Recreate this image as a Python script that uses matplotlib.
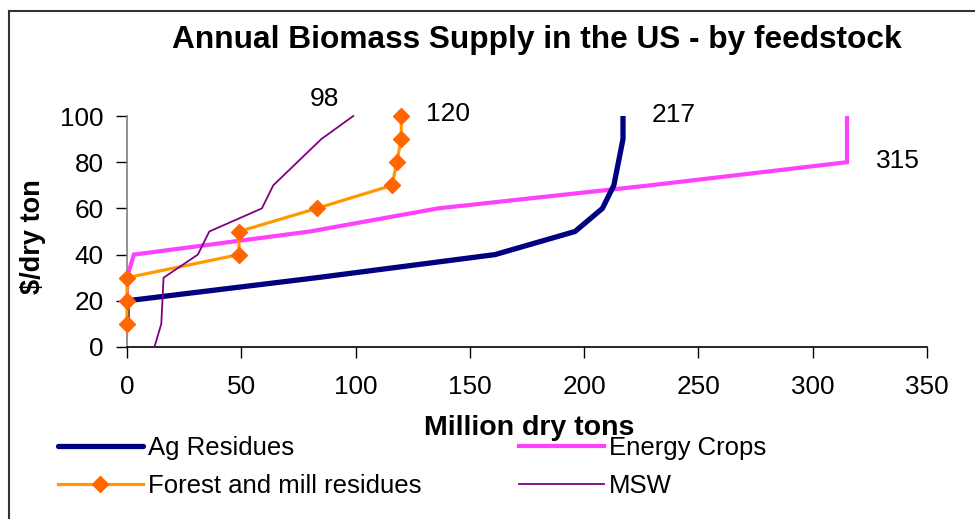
import matplotlib
matplotlib.use("Agg")
import matplotlib.pyplot as plt
from matplotlib.lines import Line2D

plt.rcParams['font.family'] = ['Liberation Sans', 'DejaVu Sans']

# ---- data ----
ag_x = [0, 0, 83, 161, 196, 208, 213, 217, 217]
ag_y = [10, 20, 30, 40, 50, 60, 70, 90, 100]

energy_x = [0, 0, 0, 3, 80, 136, 229, 315, 315]
energy_y = [10, 20, 30, 40, 50, 60, 70, 80, 100]

forest_x = [0, 0, 0, 49, 49, 83, 116, 118, 120, 120]
forest_y = [10, 20, 30, 40, 50, 60, 70, 80, 90, 100]

msw_x = [12, 15, 16, 31, 36, 59, 64, 85, 99]
msw_y = [0, 10, 30, 40, 50, 60, 70, 90, 100]

end_labels = ["98", "120", "217", "315"]
end_label_pos = [(86.5, 107.5), (140.5, 101.0), (239.0, 100.5), (337.2, 80.4)]

x_ticks = [0, 50, 100, 150, 200, 250, 300, 350]
y_ticks = [0, 20, 40, 60, 80, 100]

title = "Annual Biomass Supply in the US - by feedstock"
x_label = "Million dry tons"
y_label = "$/dry ton"
series_names = ["Ag Residues", "Energy Crops", "Forest and mill residues", "MSW"]

# ---- figure ----
W, H = 975, 519
fig = plt.figure(figsize=(W / 100, H / 100), dpi=100)
ax = fig.add_axes([127 / W, 1 - 347 / H, 800 / W, 231 / H])

l_en, = ax.plot(energy_x, energy_y, color='#FF40FF', lw=3.0, zorder=2,
                solid_joinstyle='miter')
l_ag, = ax.plot(ag_x, ag_y, color='#000080', lw=3.8, zorder=3,
                solid_capstyle='round')
l_fo, = ax.plot(forest_x, forest_y, color='#FF9900', lw=2.3, zorder=4,
                marker='D', markersize=8.5, markerfacecolor='#FF6600',
                markeredgecolor='#FF6600', clip_on=False)
l_ms, = ax.plot(msw_x, msw_y, color='#800080', lw=1.3, zorder=5, clip_on=False)

ax.set_xlim(0, 350)
ax.set_ylim(0, 100)
ax.set_xticks(x_ticks)
ax.set_yticks(y_ticks)
ax.tick_params(axis='both', labelsize=18.8, length=8, width=1, color='black')
ax.tick_params(axis='x', pad=12.5)
ax.tick_params(axis='y', pad=9)

ax.spines['top'].set_visible(False)
ax.spines['right'].set_visible(False)
ax.spines['left'].set_color('#808080')
ax.spines['bottom'].set_color('black')
ax.spines['left'].set_linewidth(1.2)
ax.spines['bottom'].set_linewidth(1.2)

for txt, (tx, ty) in zip(end_labels, end_label_pos):
    ax.text(tx, ty, txt, fontsize=19, ha='center', va='center', clip_on=False)

fig.text(537 / W, 1 - 40 / H, title, fontsize=22.8, fontweight='bold',
         ha='center', va='center')
fig.text(529 / W, 1 - 428 / H, x_label, fontsize=20.5, fontweight='bold',
         ha='center', va='center')
fig.text(33 / W, 1 - 237 / H, y_label, fontsize=19.5, fontweight='bold',
         ha='center', va='center', rotation=90)

leg = fig.legend([l_ag, l_fo, l_en, l_ms],
                 [series_names[0], series_names[2], series_names[1], series_names[3]],
                 ncol=2, loc='upper left', bbox_to_anchor=(58 / W, 1 - 436 / H),
                 frameon=False, fontsize=18.5, handlelength=3.3,
                 handletextpad=0.2, columnspacing=3.8, labelspacing=0.55,
                 borderpad=0, borderaxespad=0, numpoints=1, markerscale=1.0)

# outer frame (partial, as in reference)
fig.add_artist(Line2D([9 / W, 1.0], [1 - 11 / H, 1 - 11 / H], color='#333333', lw=1.5))
fig.add_artist(Line2D([9 / W, 9 / W], [1 - 11 / H, 0.0], color='#333333', lw=1.5))

fig.savefig("out.png", dpi=100)
